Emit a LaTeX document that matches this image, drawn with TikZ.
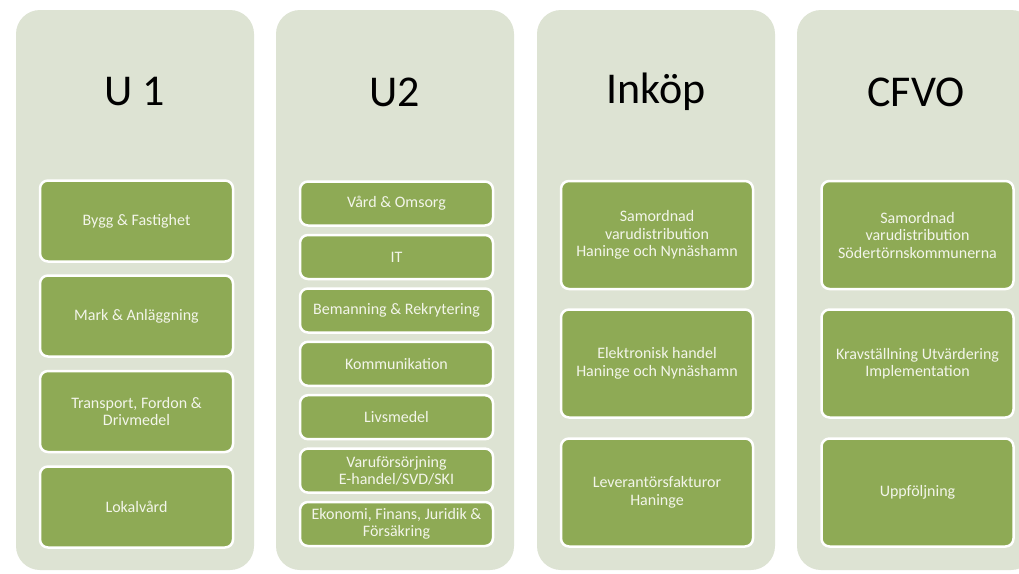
\documentclass[tikz,border=0pt]{standalone}
\usepackage{fontspec}
\setmainfont{Carlito}
\definecolor{colbg}{HTML}{DDE3D3}
\definecolor{boxgreen}{HTML}{8EAA55}
\definecolor{boxtext}{HTML}{F3F5EA}
\tikzset{
  colpanel/.style={fill=colbg, draw=none, rounded corners=24pt, minimum width=238pt, minimum height=560pt, inner sep=0pt},
  coltitle/.style={font=\fontsize{44}{48}\selectfont, text=black, inner sep=0pt},
  greenbox/.style={fill=boxgreen, draw=white, line width=2.5pt, rounded corners=8pt, text=boxtext, align=center, inner sep=2pt, font=\fontsize{16}{17.5}\selectfont},
  bigbox/.style={greenbox, minimum width=193pt, minimum height=81pt},
  smallbox/.style={greenbox, minimum width=193pt, minimum height=44pt},
  tallbox/.style={greenbox, minimum width=192pt, minimum height=108pt}
}
\begin{document}
\begin{tikzpicture}[x=1pt,y=-1pt]
\useasboundingbox (0,0) rectangle (1019,573);
\fill[white] (0,0) rectangle (1019,573);
% columns
\node[colpanel] (c1) at (135,290) {};
\node[colpanel] (c2) at (395,290) {};
\node[colpanel] (c3) at (656,290) {};
\node[colpanel] (c4) at (916,290) {};
% titles
\node[coltitle] (t1) at (135,92) {U 1};
\node[coltitle] (t2) at (395,92) {U2};
\node[coltitle] (t3) at (656,92) {Inköp};
\node[coltitle] (t4) at (916,92) {CFVO};
% column 1
\node[bigbox] (a1) at (136.5,221) {Bygg \& Fastighet};
\node[bigbox] (a2) at (136.5,316) {Mark \& Anläggning};
\node[bigbox] (a3) at (136.5,411.5) {Transport, Fordon \&\\Drivmedel};
\node[bigbox] (a4) at (136.5,507) {Lokalvård};
% column 2
\node[smallbox] (b1) at (396.5,203.5) {Vård \& Omsorg};
\node[smallbox] (b2) at (396.5,257) {IT};
\node[smallbox] (b3) at (396.5,310.5) {Bemanning \& Rekrytering};
\node[smallbox] (b4) at (396.5,363.8) {Kommunikation};
\node[smallbox] (b5) at (396.5,417.2) {Livsmedel};
\node[smallbox] (b6) at (396.5,470.6) {Varuförsörjning\\E-handel/SVD/SKI};
\node[smallbox] (b7) at (396.5,524) {Ekonomi, Finans, Juridik \&\\Försäkring};
% column 3
\node[tallbox] (d1) at (657,235) {Samordnad\\varudistribution\\Haninge och Nynäshamn};
\node[tallbox] (d2) at (657,363.5) {Elektronisk handel\\Haninge och Nynäshamn};
\node[tallbox] (d3) at (657,492.5) {Leverantörsfakturor\\Haninge};
% column 4
\node[tallbox] (e1) at (917.5,235) {Samordnad\\varudistribution\\Södertörnskommunerna};
\node[tallbox] (e2) at (917.5,363.5) {Kravställning Utvärdering\\Implementation};
\node[tallbox] (e3) at (917.5,492.5) {Uppföljning};
\end{tikzpicture}
\end{document}
